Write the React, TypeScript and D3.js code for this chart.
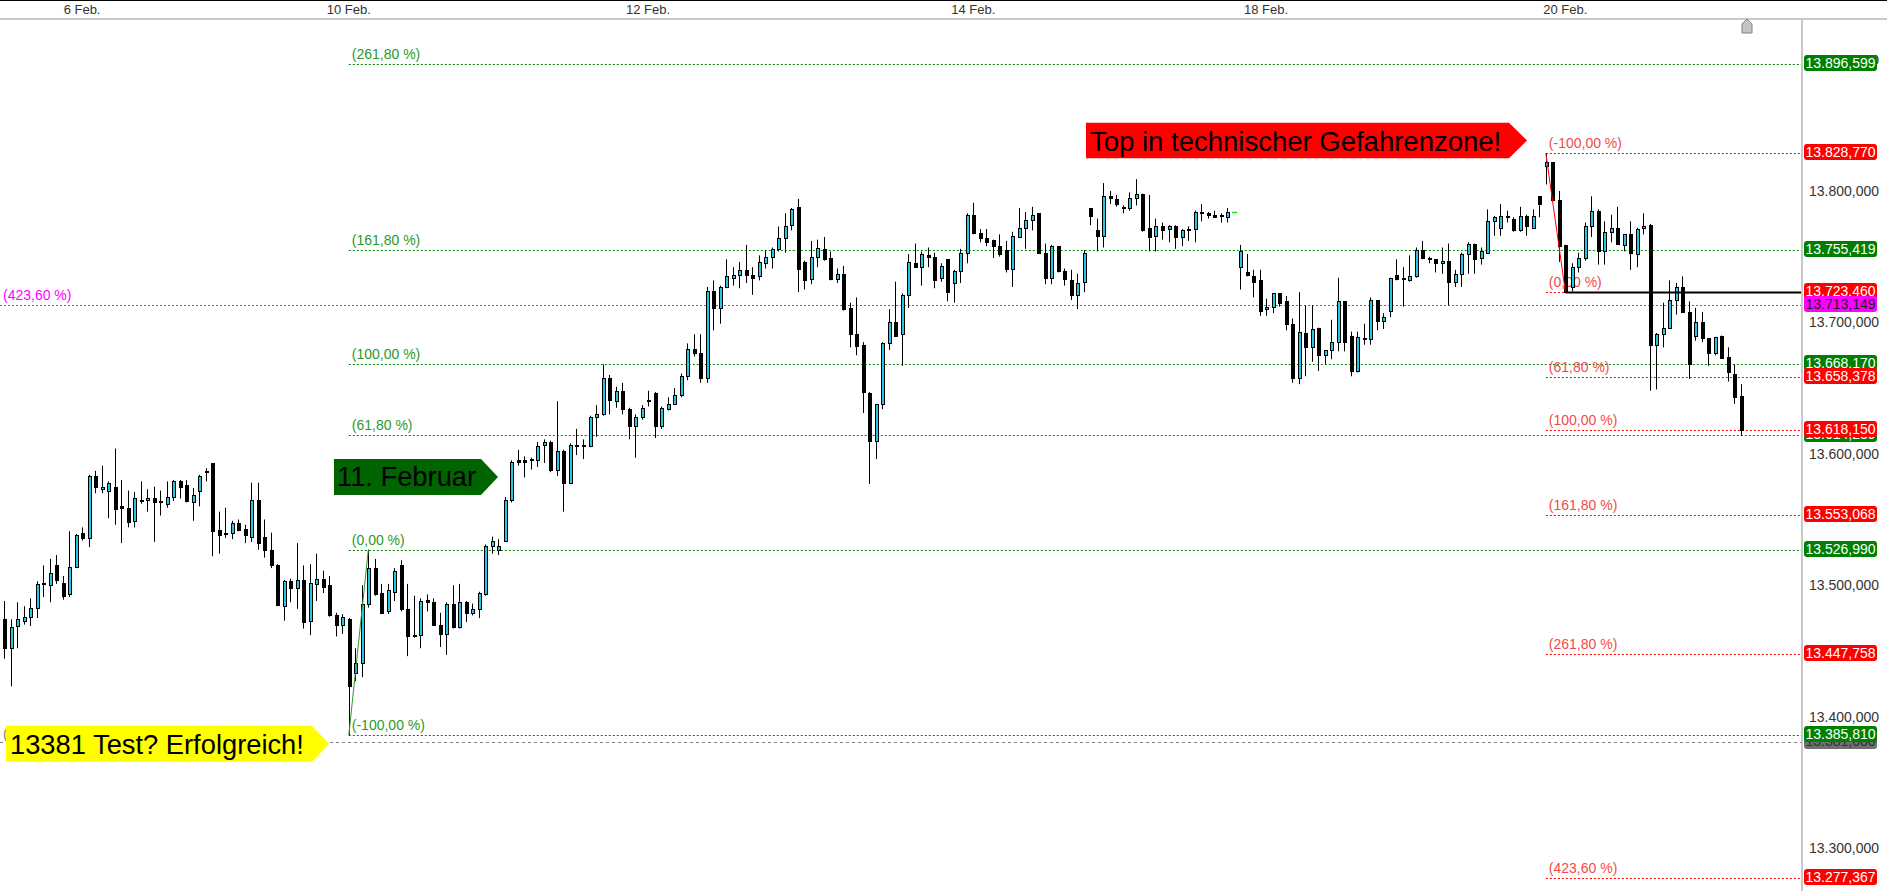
import React from "react";
import * as d3 from "d3";

const W = 1887;
const H = 891;
const AXIS_X = 1802;
const FONT = "'Liberation Sans', Arial, sans-serif";

// bars, oldest first
const opens = [
  13474, 13452, 13469, 13473, 13476, 13483, 13502, 13500, 13515, 13502,
  13493, 13514, 13540, 13536, 13583, 13573, 13572, 13575, 13560, 13559,
  13549, 13565, 13565, 13566, 13564, 13562, 13567, 13579, 13576, 13563,
  13572, 13587, 13593, 13542, 13539, 13540, 13547, 13543, 13537, 13565,
  13537, 13527, 13515, 13484, 13503, 13498, 13504, 13473, 13501, 13505,
  13500, 13477, 13470, 13474, 13433, 13441, 13486, 13513, 13494, 13480,
  13495, 13515, 13482, 13462, 13462, 13489, 13487, 13470, 13463, 13486,
  13468, 13487, 13479, 13482, 13493, 13530, 13527, 13534, 13565, 13595,
  13595, 13596, 13595, 13607, 13609, 13588, 13602, 13578, 13607, 13607,
  13606, 13628, 13630, 13658, 13640, 13648, 13634, 13621, 13628, 13641,
  13646, 13621, 13634, 13638, 13645, 13659, 13680, 13677, 13658, 13724,
  13711, 13727, 13734, 13736, 13740, 13736, 13735, 13745, 13750, 13756,
  13764, 13774, 13788, 13746, 13733, 13750, 13756, 13749, 13733, 13737,
  13711, 13691, 13683, 13646, 13610, 13638, 13684, 13700, 13691, 13721,
  13745, 13742, 13751, 13750, 13734, 13748, 13730, 13739, 13753, 13782,
  13768, 13764, 13763, 13758, 13755, 13741, 13765, 13772, 13778, 13783,
  13753, 13734, 13758, 13739, 13732, 13721, 13731, 13787, 13770, 13766,
  13796, 13794, 13788, 13787, 13795, 13798, 13772, 13766, 13773, 13771,
  13773, 13765, 13771, 13771, 13784, 13783, 13782, 13782, 13780, 13784,
  13742, 13738, 13735, 13732, 13710, 13712, 13722, 13716, 13699, 13658,
  13692, 13681, 13696, 13675, 13679, 13685, 13716, 13690, 13663, 13688,
  13687, 13717, 13701, 13709, 13736, 13734, 13732, 13735, 13755, 13749,
  13748, 13745, 13747, 13731, 13737, 13752, 13760, 13749, 13753, 13777,
  13772, 13781, 13779, 13770, 13781, 13772, 13796, 13819, 13822, 13793,
  13759, 13727, 13742, 13749, 13773, 13785, 13754, 13769, 13772, 13759,
  13767, 13752, 13772, 13774, 13683, 13691, 13696, 13717, 13727, 13708,
  13690, 13700, 13688, 13677, 13690, 13674, 13661, 13644,
];

const highs = [
  13488, 13474, 13487, 13484, 13490, 13503, 13515, 13520, 13523, 13507,
  13541, 13539, 13544, 13584, 13587, 13591, 13579, 13604, 13580, 13572,
  13571, 13579, 13573, 13575, 13572, 13579, 13580, 13580, 13580, 13574,
  13584, 13589, 13593, 13556, 13559, 13549, 13550, 13546, 13578, 13578,
  13550, 13540, 13516, 13504, 13505, 13532, 13515, 13516, 13524, 13511,
  13507, 13479, 13478, 13475, 13452, 13500, 13527, 13520, 13501, 13501,
  13513, 13519, 13501, 13492, 13490, 13493, 13490, 13479, 13487, 13500,
  13501, 13488, 13486, 13495, 13531, 13537, 13535, 13567, 13595, 13603,
  13598, 13597, 13609, 13611, 13610, 13640, 13603, 13608, 13619, 13611,
  13629, 13637, 13668, 13660, 13651, 13654, 13635, 13630, 13637, 13648,
  13647, 13636, 13643, 13650, 13661, 13684, 13691, 13691, 13727, 13732,
  13728, 13748, 13742, 13746, 13759, 13742, 13751, 13755, 13757, 13773,
  13783, 13787, 13794, 13747, 13762, 13763, 13765, 13754, 13741, 13743,
  13715, 13719, 13685, 13647, 13638, 13685, 13710, 13731, 13722, 13752,
  13760, 13754, 13757, 13753, 13745, 13748, 13740, 13756, 13783, 13791,
  13771, 13771, 13763, 13767, 13762, 13769, 13787, 13784, 13788, 13783,
  13760, 13759, 13758, 13741, 13740, 13737, 13755, 13787, 13779, 13806,
  13800, 13797, 13789, 13799, 13809, 13798, 13797, 13779, 13776, 13774,
  13774, 13771, 13773, 13785, 13790, 13784, 13785, 13783, 13787, 13784,
  13759, 13752, 13740, 13740, 13718, 13722, 13722, 13720, 13703, 13723,
  13713, 13713, 13696, 13679, 13702, 13734, 13716, 13693, 13693, 13699,
  13719, 13717, 13707, 13734, 13748, 13742, 13751, 13757, 13762, 13750,
  13748, 13757, 13760, 13740, 13753, 13761, 13760, 13757, 13786, 13781,
  13790, 13785, 13780, 13788, 13782, 13786, 13796, 13828.77, 13822, 13800,
  13759, 13745, 13753, 13776, 13796, 13786, 13777, 13782, 13788, 13767,
  13777, 13772, 13783, 13775, 13692, 13715, 13732, 13730, 13735, 13716,
  13711, 13708, 13688, 13689, 13690, 13681, 13668, 13653,
];

const lows = [
  13444, 13423, 13452, 13470, 13469, 13475, 13491, 13487, 13501, 13489,
  13491, 13513, 13534, 13529, 13570, 13570, 13551, 13546, 13532, 13544,
  13544, 13562, 13556, 13533, 13553, 13559, 13564, 13566, 13563, 13549,
  13560, 13579, 13522, 13524, 13536, 13535, 13541, 13532, 13533, 13527,
  13521, 13513, 13484, 13473, 13487, 13482, 13467, 13462, 13488, 13494,
  13476, 13461, 13463, 13385.81, 13427, 13430, 13483, 13492, 13478, 13478,
  13488, 13480, 13446, 13460, 13452, 13480, 13469, 13453, 13447, 13467,
  13467, 13472, 13477, 13475, 13492, 13524, 13523, 13533, 13563, 13591,
  13582, 13588, 13590, 13593, 13586, 13583, 13556, 13577, 13599, 13596,
  13605, 13613, 13629, 13630, 13635, 13630, 13611, 13597, 13626, 13636,
  13612, 13619, 13633, 13637, 13643, 13656, 13674, 13654, 13654, 13694,
  13699, 13726, 13728, 13726, 13730, 13721, 13732, 13741, 13741, 13754,
  13753, 13770, 13723, 13725, 13729, 13742, 13747, 13732, 13730, 13709,
  13681, 13675, 13631, 13577, 13596, 13634, 13679, 13690, 13667, 13711,
  13742, 13728, 13742, 13726, 13731, 13716, 13715, 13730, 13745, 13767,
  13761, 13758, 13749, 13750, 13738, 13727, 13765, 13756, 13770, 13752,
  13729, 13729, 13738, 13728, 13717, 13710, 13723, 13774, 13754, 13757,
  13790, 13788, 13783, 13785, 13789, 13769, 13754, 13754, 13763, 13761,
  13756, 13758, 13762, 13761, 13777, 13779, 13780, 13776, 13776, 13784,
  13725, 13735, 13719, 13705, 13705, 13707, 13712, 13694, 13654, 13653,
  13659, 13670, 13663, 13668, 13672, 13678, 13678, 13659, 13662, 13683,
  13683, 13694, 13695, 13704, 13732, 13712, 13731, 13734, 13748, 13745,
  13738, 13737, 13713, 13727, 13727, 13737, 13737, 13744, 13753, 13766,
  13766, 13776, 13769, 13769, 13766, 13772, 13780, 13805, 13792, 13746,
  13723.46, 13723.5, 13738, 13747, 13765, 13744, 13744, 13761, 13760, 13754,
  13740, 13742, 13767, 13648, 13649, 13681, 13696, 13706, 13708, 13657,
  13686, 13685, 13667, 13675, 13673, 13655, 13638, 13613.5,
];

const closes = [
  13452, 13468, 13474, 13476, 13483, 13501, 13501, 13509, 13504, 13492,
  13514, 13538, 13536, 13583, 13575, 13575, 13578, 13558, 13559, 13548,
  13566, 13564, 13566, 13563, 13563, 13567, 13579, 13575, 13564, 13569,
  13583, 13586, 13541, 13538, 13540, 13547, 13542, 13538, 13565, 13532,
  13527, 13515, 13485, 13503, 13498, 13504, 13472, 13502, 13505, 13499,
  13477, 13470, 13476, 13423, 13441, 13486, 13513, 13493, 13479, 13496,
  13511, 13482, 13461, 13461, 13488, 13487, 13470, 13463, 13486, 13468,
  13487, 13479, 13482, 13494, 13530, 13534, 13530, 13565, 13594, 13594,
  13594, 13595, 13606, 13609, 13588, 13602, 13578, 13607, 13606, 13606,
  13628, 13630, 13658, 13641, 13648, 13634, 13621, 13628, 13635, 13640,
  13621, 13635, 13638, 13645, 13659, 13680, 13677, 13658, 13724, 13711,
  13727, 13735, 13736, 13740, 13736, 13734, 13746, 13750, 13756, 13764,
  13773, 13786, 13741, 13732, 13750, 13757, 13748, 13733, 13737, 13710,
  13691, 13682, 13647, 13610, 13638, 13684, 13700, 13690, 13721, 13746,
  13742, 13752, 13750, 13732, 13743, 13723, 13739, 13753, 13782, 13768,
  13764, 13761, 13758, 13752, 13741, 13766, 13772, 13778, 13782, 13753,
  13734, 13758, 13739, 13733, 13721, 13730, 13753, 13781, 13766, 13796,
  13795, 13790, 13787, 13795, 13798, 13770, 13765, 13773, 13770, 13773,
  13765, 13770, 13770, 13784, 13783, 13782, 13780, 13781, 13784, 13784,
  13754, 13736, 13731, 13709, 13712, 13722, 13715, 13699, 13658, 13693,
  13681, 13695, 13675, 13679, 13685, 13716, 13685, 13663, 13689, 13687,
  13717, 13701, 13704, 13734, 13733, 13733, 13735, 13755, 13749, 13748,
  13745, 13747, 13731, 13737, 13752, 13760, 13748, 13754, 13777, 13780,
  13781, 13780, 13770, 13781, 13773, 13781, 13790, 13822, 13793, 13758,
  13723.5, 13742, 13749, 13773, 13785, 13754, 13769, 13772, 13760, 13767,
  13753, 13771, 13773, 13683, 13691, 13696, 13717, 13727, 13708, 13668,
  13700, 13688, 13677, 13689, 13673, 13662, 13643, 13618,
];

const dayLabels = ["6 Feb.", "10 Feb.", "12 Feb.", "14 Feb.", "18 Feb.", "20 Feb."];
const dayBars = [12, 53, 99, 149, 194, 240];

const priceTicks = [13300, 13400, 13500, 13600, 13700, 13800, 13900];

// fib from the 13385 low (bar 53) to the 13527 high (bar 56)
const greenFibNames = ["(261,80 %)", "(161,80 %)", "(100,00 %)", "(61,80 %)", "(0,00 %)", "(-100,00 %)"];
const greenFibLevels = [13896.599, 13755.419, 13668.17, 13614.239, 13526.99, 13385.81];
const greenFibBars = [53, 56];

// fib from the 13828 top (bar 237) down to 13723 (bar 240)
const redFibNames = ["(-100,00 %)", "(0,00 %)", "(61,80 %)", "(100,00 %)", "(161,80 %)", "(261,80 %)", "(423,60 %)"];
const redFibLevels = [13828.77, 13723.46, 13658.378, 13618.15, 13553.068, 13447.758, 13277.367];
const redFibBars = [237, 240];

const magentaLevel = 13713.149;
const grayLevel = 13381.0;

const GREEN = "#008000";
const RED = "#ff0000";
const MAGENTA = "#ff00ff";
const CYAN = "#25c6e8";

const de = d3.formatLocale({ decimal: ",", thousands: ".", grouping: [3], currency: ["", "€"] });
const fmt = de.format(",.3f");

export default function App() {
  const n = opens.length;
  const x = d3.scaleLinear().domain([0, n - 1]).range([4, 1741]);
  const y = d3.scaleLinear().domain([13300, 13800]).range([848, 191]);
  const yc = (v: number) => Math.round(y(v)) + 0.5;

  const bars = d3.range(n).map((i) => ({ i, o: opens[i], h: highs[i], l: lows[i], c: closes[i] }));

  const box = (v: number, fill: string, text: string, key: string) => {
    const cy = Math.round(y(v));
    return (
      <g key={key}>
        <rect x={1804} y={cy - 9} width={73} height={16} rx={3} fill={fill} />
        <text x={1840.5} y={cy + 4} textAnchor="middle" fontSize={14} fill={text}>
          {fmt(v)}
        </text>
      </g>
    );
  };

  const arrowBox = (x0: number, x1: number, tip: number, y0: number, y1: number) => {
    const m = (y0 + y1) / 2;
    return `${x0},${y0} ${x1},${y0} ${tip},${m} ${x1},${y1} ${x0},${y1}`;
  };

  const gx0 = x(greenFibBars[0]);
  const rx0 = x(redFibBars[0]);

  return (
    <svg
      width={W}
      height={H}
      style={{ position: "absolute", left: 0, top: 0, background: "#fff" }}
      fontFamily={FONT}
    >
      <rect width={W} height={H} fill="#fff" />

      {/* top time axis */}
      <line x1={0} x2={W} y1={0.5} y2={0.5} stroke="#000" />
      {dayBars.map((b, i) => (
        <text key={dayLabels[i]} x={x(b)} y={14} textAnchor="middle" fontSize={13} fill="#333">
          {dayLabels[i]}
        </text>
      ))}
      <line x1={0} x2={W} y1={19} y2={19} stroke="#c8c8c8" strokeWidth={2} />
      <polygon points="1742,33 1742,24 1747,19 1752,24 1752,33" fill="#c4c4c4" stroke="#808080" />

      {/* level lines */}
      <line x1={0} x2={AXIS_X} y1={yc(magentaLevel)} y2={yc(magentaLevel)} stroke={MAGENTA} strokeDasharray="2,2" />
      <text x={3} y={Math.round(y(magentaLevel)) - 5} fontSize={14} fill={MAGENTA}>(423,60 %)</text>
      <line x1={0} x2={AXIS_X} y1={yc(grayLevel)} y2={yc(grayLevel)} stroke="#808080" strokeDasharray="3,3" />
      <text x={3} y={Math.round(y(grayLevel)) - 3} fontSize={14} fill="#808080">(100,00 %)</text>

      {greenFibLevels.map((v, i) => (
        <g key={"g" + i}>
          <line x1={gx0} x2={AXIS_X} y1={yc(v)} y2={yc(v)} stroke={GREEN} strokeDasharray="2,2" />
          <text x={gx0 + 3} y={Math.round(y(v)) - 5} fontSize={14} fill="#2a9a2a">
            {greenFibNames[i]}
          </text>
        </g>
      ))}
      {redFibLevels.map((v, i) => (
        <g key={"r" + i}>
          <line x1={rx0} x2={AXIS_X} y1={yc(v)} y2={yc(v)} stroke={RED} strokeDasharray="2,2" />
          <text x={rx0 + 3} y={Math.round(y(v)) - 5} fontSize={14} fill="#f24a4a">
            {redFibNames[i]}
          </text>
        </g>
      ))}

      {/* candles */}
      {bars.map((b) => {
        const cx = Math.round(x(b.i));
        if (b.h === b.l) {
          return <line key={b.i} x1={cx - 2} x2={cx + 3} y1={yc(b.h)} y2={yc(b.h)} stroke="#22dd22" strokeWidth={1.5} />;
        }
        const up = b.c >= b.o;
        const top = Math.round(y(Math.max(b.o, b.c)));
        const bot = Math.round(y(Math.min(b.o, b.c)));
        return (
          <g key={b.i}>
            <line x1={cx + 0.5} x2={cx + 0.5} y1={y(b.h)} y2={y(b.l)} stroke="#000" />
            <rect
              x={cx - 0.5}
              y={top + 0.5}
              width={3}
              height={Math.max(bot - top, 1)}
              fill={up ? CYAN : "#000"}
              stroke="#000"
            />
          </g>
        );
      })}

      {/* fib anchor lines */}
      <line
        x1={x(greenFibBars[0])}
        y1={y(greenFibLevels[5])}
        x2={x(greenFibBars[1])}
        y2={y(greenFibLevels[4])}
        stroke="#2a9a2a"
      />
      <line
        x1={x(redFibBars[0])}
        y1={y(redFibLevels[0])}
        x2={x(redFibBars[1])}
        y2={y(redFibLevels[1])}
        stroke={RED}
      />
      <line x1={x(redFibBars[1])} x2={AXIS_X} y1={yc(redFibLevels[1])} y2={yc(redFibLevels[1])} stroke="#000" strokeWidth={2} />

      {/* right price axis */}
      <line x1={AXIS_X} x2={AXIS_X} y1={20} y2={H} stroke="#c8c8c8" strokeWidth={2} />
      {priceTicks.map((v) => (
        <text key={v} x={1879} y={Math.round(y(v)) + 5} textAnchor="end" fontSize={14} fill="#333">
          {fmt(v)}
        </text>
      ))}
      {box(grayLevel, "#707070", "#333", "gray")}
      {greenFibLevels.map((v, i) => box(v, GREEN, "#fff", "gb" + i))}
      {redFibLevels.map((v, i) => box(v, RED, "#fff", "rb" + i))}
      {box(magentaLevel, MAGENTA, "#222", "mb")}

      {/* notes */}
      <polygon points={arrowBox(6, 312, 329, 725.7, 761.7)} fill="#ffff00" />
      <text x={10} y={754} fontSize={27.3} fill="#000">13381 Test? Erfolgreich!</text>
      <polygon points={arrowBox(334, 481, 498, 459, 495)} fill="#006400" />
      <text x={337} y={486} fontSize={27.3} fill="#000">11. Februar</text>
      <polygon points={arrowBox(1086, 1509, 1527, 122.7, 158.3)} fill="#ff0000" />
      <text x={1090} y={150.5} fontSize={27.5} fill="#000">Top in technischer Gefahrenzone!</text>
    </svg>
  );
}
